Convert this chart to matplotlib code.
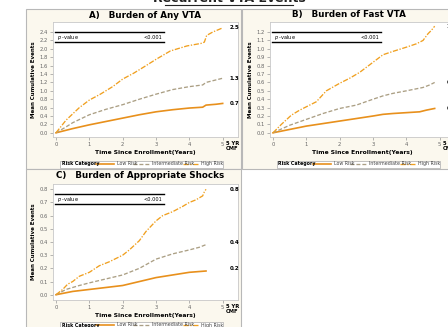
import matplotlib
matplotlib.use("Agg")
import matplotlib.pyplot as plt
from matplotlib.lines import Line2D
from matplotlib.patches import Rectangle

# ---- data ----
a_high_t = [0, 0.3, 0.7, 1.0, 1.33, 1.7, 2.0, 2.33, 2.7, 3.0, 3.43, 3.93, 4.35, 4.45, 4.52, 4.7, 5.0]
a_high_v = [0, 0.3, 0.6, 0.78, 0.92, 1.1, 1.28, 1.42, 1.6, 1.75, 1.95, 2.07, 2.13, 2.16, 2.32, 2.4, 2.5]
a_mid_t = [0, 0.3, 0.5, 1.0, 1.5, 2.0, 2.5, 3.0, 3.5, 4.0, 4.4, 4.5, 4.8, 5.0]
a_mid_v = [0, 0.14, 0.24, 0.43, 0.56, 0.67, 0.8, 0.92, 1.03, 1.1, 1.14, 1.2, 1.26, 1.3]
a_low_t = [0, 0.5, 1.0, 1.5, 2.0, 2.5, 3.0, 3.5, 4.0, 4.4, 4.5, 4.8, 5.0]
a_low_v = [0, 0.1, 0.19, 0.27, 0.35, 0.43, 0.5, 0.55, 0.59, 0.61, 0.66, 0.68, 0.7]

b_high_t = [0, 0.25, 0.55, 0.8, 1.0, 1.3, 1.6, 2.0, 2.3, 2.6, 3.0, 3.3, 3.6, 4.0, 4.3, 4.5, 4.65, 4.75, 4.85]
b_high_v = [0, 0.1, 0.21, 0.27, 0.31, 0.37, 0.5, 0.59, 0.65, 0.72, 0.84, 0.93, 0.97, 1.02, 1.06, 1.1, 1.18, 1.22, 1.27]
b_mid_t = [0, 0.5, 1.0, 1.5, 2.0, 2.5, 3.0, 3.3, 3.6, 4.0, 4.5, 4.7, 4.85]
b_mid_v = [0, 0.09, 0.16, 0.23, 0.29, 0.33, 0.4, 0.44, 0.47, 0.5, 0.54, 0.57, 0.6]
b_low_t = [0, 0.5, 1.0, 1.5, 2.0, 2.5, 3.0, 3.3, 3.6, 4.0, 4.4, 4.6, 4.85]
b_low_v = [0, 0.04, 0.08, 0.11, 0.14, 0.17, 0.2, 0.22, 0.23, 0.24, 0.25, 0.27, 0.29]

c_high_t = [0, 0.2, 0.35, 0.5, 0.7, 1.0, 1.3, 1.6, 2.0, 2.2, 2.5, 2.7, 3.0, 3.2, 3.5, 3.8, 4.0, 4.2, 4.4, 4.45, 4.5]
c_high_v = [0, 0.04, 0.08, 0.1, 0.14, 0.17, 0.22, 0.25, 0.3, 0.34, 0.41, 0.48, 0.56, 0.6, 0.63, 0.67, 0.7, 0.72, 0.75, 0.78, 0.8]
c_mid_t = [0, 0.3, 0.7, 1.0, 1.5, 2.0, 2.5, 3.0, 3.5, 4.0, 4.3, 4.5]
c_mid_v = [0, 0.04, 0.07, 0.09, 0.12, 0.15, 0.2, 0.27, 0.31, 0.34, 0.36, 0.38]
c_low_t = [0, 0.5, 1.0, 1.5, 2.0, 2.5, 3.0, 3.5, 4.0, 4.5]
c_low_v = [0, 0.025, 0.04, 0.055, 0.07, 0.1, 0.13, 0.15, 0.17, 0.18]

a_end = ["2.5", "1.3", "0.7"]
a_end_v = [2.5, 1.3, 0.7]
b_end = ["1.2", "0.6", "0.3"]
b_end_v = [1.27, 0.6, 0.29]
c_end = ["0.8", "0.4", "0.2"]
c_end_v = [0.8, 0.4, 0.2]

titles = ["A)   Burden of Any VTA", "B)   Burden of Fast VTA", "C)   Burden of Appropriate Shocks"]
risk_names = ["Low Risk", "Intermediate Risk", "High Risk"]

low_col = '#e8901c'
mid_col = '#ab9f84'
high_col = '#f0a020'
cream = '#fbf8ee'
W, H = 448.0, 327.0


def fx(x):
  return x / W


def fy(y):
  return 1 - y / H


fig = plt.figure(figsize=(4.48, 3.27), dpi=100)
fig.patch.set_facecolor('white')

# panel boxes
for (x0, y0, x1, y1) in [(26, 9, 241, 169), (242, 9, 452, 169), (26, 169, 241, 330)]:
  fig.patches.append(Rectangle((fx(x0), fy(y1)), fx(x1 - x0), (y1 - y0) / H,
                               transform=fig.transFigure, facecolor=cream,
                               edgecolor='#b8b8b8', linewidth=0.8, zorder=-5))

# clipped main heading at the very top
fig.text(fx(229), fy(2.2), "Recurrent VTA Events", ha='center', va='baseline',
         fontsize=9, fontweight='bold', color='#222222')
fig.lines.append(Line2D([fx(165), fx(293)], [fy(4.5), fy(4.5)], transform=fig.transFigure,
                        color='#222222', linewidth=0.8))


def panel(rect, ylim, ystep, ymax_tick, data, ends, ends_v, title, title_xy, legend_xy):
  ax = fig.add_axes(rect)
  ax.set_zorder(1)
  ax.set_facecolor('white')
  (lt, lv), (mt, mv), (ht, hv) = data
  ax.plot(lt, lv, color=low_col, lw=1.2, ls='-')
  ax.plot(mt, mv, color=mid_col, lw=0.95, ls=(0, (3, 1.5)))
  ax.plot(ht, hv, color=high_col, lw=0.95, ls=(0, (4, 1.2, 1, 1.2)))
  ax.set_xlim(-0.09, 5.46)
  ax.set_ylim(*ylim)
  ax.set_xticks([0, 1, 2, 3, 4, 5])
  n = int(round(ymax_tick / ystep))
  ax.set_yticks([i * ystep for i in range(n + 1)])
  ax.set_yticklabels(["%.1f" % (i * ystep) for i in range(n + 1)])
  ax.tick_params(labelsize=3.8, labelcolor='#666666', color='#999999', length=2, width=0.5, pad=1.5)
  for s in ax.spines.values():
    s.set_color('#c8c8c8')
    s.set_linewidth(0.6)
  ax.set_xlabel("Time Since Enrollment(Years)", fontsize=4.3, fontweight='bold', labelpad=2)
  ax.set_ylabel("Mean Cumulative Events", fontsize=4, fontweight='bold', labelpad=3)
  # p-value table
  ax.plot([0.01, 0.6], [0.91, 0.91], transform=ax.transAxes, color='black', lw=1.0)
  ax.plot([0.01, 0.6], [0.825, 0.825], transform=ax.transAxes, color='black', lw=1.0)
  ax.text(0.02, 0.867, r"$\it{p}$ -value", transform=ax.transAxes, fontsize=3.6, va='center')
  ax.text(0.59, 0.867, "<0.001", transform=ax.transAxes, fontsize=3.6, va='center', ha='right')
  # 5 year values
  for lab, v in zip(ends, ends_v):
    ax.text(5.2, v, lab, fontsize=4, fontweight='bold', va='center', ha='left')
  ax.text(5.1, -0.035, "5 YR\nCMF", fontsize=3.8, fontweight='bold', ha='left', va='top',
          transform=ax.get_xaxis_transform(), linespacing=1.1)
  fig.text(fx(title_xy[0]), fy(title_xy[1]), title, fontsize=6.3, fontweight='bold',
           ha='center', va='center')
  # legend strip
  x0, y = legend_xy
  fig.patches.append(Rectangle((fx(x0), fy(y + 3.5)), fx(163), 7 / H, transform=fig.transFigure,
                               facecolor='white', edgecolor='#aaaaaa', linewidth=0.5, zorder=2))
  fig.text(fx(x0 + 1.5), fy(y), "Risk Category", fontsize=3.4, fontweight='bold', va='center', zorder=3)
  styles = [('-', low_col, 1.2), ((0, (3, 1.5)), mid_col, 0.95), ((0, (4, 1.2, 1, 1.2)), high_col, 0.95)]
  offs = [(36, 54, 57), (73, 89, 92), (123, 138, 141)]
  for (ls, col, lw), (s0, s1, tx), name in zip(styles, offs, risk_names):
    fig.lines.append(Line2D([fx(x0 + s0), fx(x0 + s1)], [fy(y), fy(y)], transform=fig.transFigure,
                            color=col, ls=ls, lw=lw, zorder=3))
    fig.text(fx(x0 + tx), fy(y), name, fontsize=3.4, color='#444444', va='center', zorder=3)
  return ax


rect_w = 185 / W
panel([fx(53), fy(137), rect_w, 115 / H], (-0.1, 2.64), 0.2, 2.4,
      [(a_low_t, a_low_v), (a_mid_t, a_mid_v), (a_high_t, a_high_v)],
      a_end, a_end_v, titles[0], (145, 15), (60, 164))
panel([fx(270), fy(137), rect_w, 115 / H], (-0.05, 1.32), 0.1, 1.2,
      [(b_low_t, b_low_v), (b_mid_t, b_mid_v), (b_high_t, b_high_v)],
      b_end, b_end_v, titles[1], (349, 15), (277, 164))
panel([fx(53), fy(300), rect_w, 116 / H], (-0.04, 0.84), 0.1, 0.8,
      [(c_low_t, c_low_v), (c_mid_t, c_mid_v), (c_high_t, c_high_v)],
      c_end, c_end_v, titles[2], (140, 175), (60, 325))

fig.savefig("out.png", dpi=100)
